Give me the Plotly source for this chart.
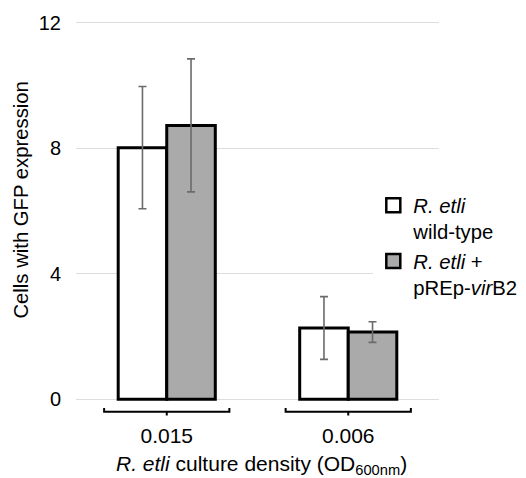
import plotly.graph_objects as go

# ---- data ----
categories = ["0.015", "0.006"]
series_names = ["<i>R. etli</i><br>wild-type", "<i>R. etli</i> +<br>pREp-<i>vir</i>B2"]
wildtype_vals = [8.02, 2.27]
wildtype_err = [1.95, 1.00]
virb2_vals = [8.73, 2.14]
virb2_err = [2.12, 0.33]
y_ticks = [0, 4, 8, 12]

FONT = "Liberation Sans, Arial, Helvetica, sans-serif"
x_pos = list(range(len(categories)))

fig = go.Figure()
fig.add_trace(go.Bar(
    x=x_pos, y=wildtype_vals, name=series_names[0],
    marker=dict(color="white", line=dict(color="black", width=3)),
    error_y=dict(type="data", array=wildtype_err, color="#6b6b6b", thickness=1.6, width=4),
    showlegend=False,
))
fig.add_trace(go.Bar(
    x=x_pos, y=virb2_vals, name=series_names[1],
    marker=dict(color="#aaaaaa", line=dict(color="black", width=3)),
    error_y=dict(type="data", array=virb2_err, color="#6b6b6b", thickness=1.6, width=4),
    showlegend=False,
))
# legend entries (square symbols)
for nm, col in zip(series_names, ["white", "#aaaaaa"]):
    fig.add_trace(go.Scatter(
        x=[None], y=[None], mode="markers", name=nm,
        marker=dict(symbol="square", size=14, color=col, line=dict(color="black", width=2.5)),
    ))

# brackets under each group
half = 0.345
y_line, y_end, y_tick = -0.4, -0.28, -0.52
for c in x_pos:
    fig.add_trace(go.Scatter(
        x=[c - half, c - half, c, c, c, c + half, c + half],
        y=[y_end, y_line, y_line, y_tick, y_line, y_line, y_end],
        mode="lines", line=dict(color="black", width=2), showlegend=False,
        hoverinfo="skip",
    ))

fig.update_layout(
    width=518, height=470,
    margin=dict(l=68, r=85, t=4, b=60),
    paper_bgcolor="white", plot_bgcolor="white",
    barmode="group", bargap=0.465, bargroupgap=0,
    font=dict(family=FONT, size=20, color="black"),
    showlegend=True,
    legend=dict(
        x=0.819, xanchor="left", y=0.577, yanchor="top",
        bgcolor="white", valign="top", tracegroupgap=0,
        font=dict(family=FONT, size=20.3, color="black"),
        itemclick=False,
    ),
    xaxis=dict(
        range=[-0.5, 1.5], tickvals=x_pos, ticktext=categories,
        showgrid=False, zeroline=False, showline=False, ticks="",
        tickfont=dict(size=21), ticklabelstandoff=3,
    ),
    yaxis=dict(
        range=[-0.6, 12.25], tickvals=y_ticks,
        showgrid=True, gridcolor="#dddddd", gridwidth=1.2,
        zeroline=False, showline=False, ticks="",
        tickfont=dict(size=20), ticklabelstandoff=14,
    ),
    annotations=[
        dict(text="Cells with GFP expression", xref="paper", yref="paper",
             x=-0.151, y=0.54, xanchor="center", yanchor="middle",
             textangle=-90, showarrow=False, font=dict(size=20.3)),
        dict(text="<i>R. etli</i> culture density (OD<sub>600nm</sub>)",
             xref="paper", yref="paper", x=0.51, y=-0.116,
             xanchor="center", yanchor="middle", showarrow=False,
             font=dict(size=21)),
    ],
)

fig.write_html("out.html")
